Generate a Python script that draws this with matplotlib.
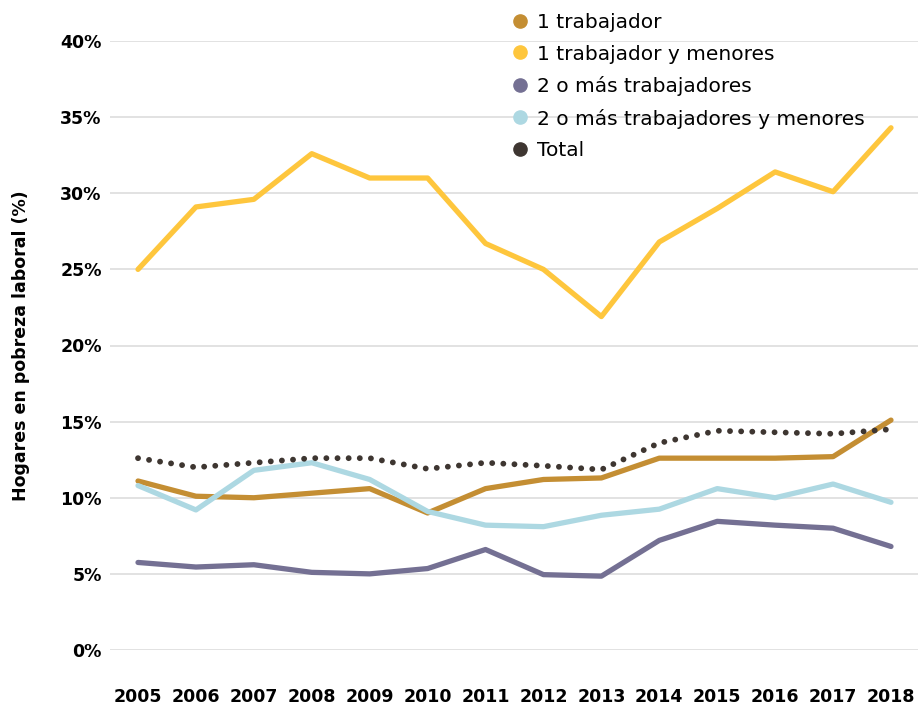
import numpy as np
import matplotlib.pyplot as plt
from matplotlib.lines import Line2D

# data (share of households, %)
years = list(range(2005, 2019))
un_trab = [11.1, 10.1, 10.0, 10.3, 10.6, 9.0, 10.6, 11.2, 11.3, 12.6, 12.6, 12.6, 12.7, 15.1]
un_trab_men = [25.0, 29.1, 29.6, 32.6, 31.0, 31.0, 26.7, 25.0, 21.9, 26.8, 29.0, 31.4, 30.1, 34.3]
dos_trab = [5.75, 5.45, 5.6, 5.1, 5.0, 5.35, 6.6, 4.95, 4.85, 7.2, 8.45, 8.2, 8.0, 6.8]
dos_trab_men = [10.8, 9.2, 11.8, 12.3, 11.2, 9.1, 8.2, 8.1, 8.85, 9.25, 10.6, 10.0, 10.9, 9.7]
total = [12.6, 12.0, 12.3, 12.6, 12.6, 11.9, 12.3, 12.1, 11.85, 13.6, 14.4, 14.3, 14.2, 14.5]

labels = ['1 trabajador', '1 trabajador y menores', '2 o más trabajadores',
          '2 o más trabajadores y menores', 'Total']
colors = ['#C48E33', '#FEC63D', '#747093', '#ADD8E2', '#3E3631']

fig = plt.figure(figsize=(9.18, 7.04), dpi=100)
ax = fig.add_axes([110/918, 54/704, 808/918, 609/704])

ax.plot(years, un_trab_men, color=colors[1], lw=3.8, solid_capstyle='round', clip_on=False)
ax.plot(years, un_trab, color=colors[0], lw=3.8, solid_capstyle='round', clip_on=False)
ax.plot(years, dos_trab, color=colors[2], lw=3.8, solid_capstyle='round', clip_on=False)
ax.plot(years, dos_trab_men, color=colors[3], lw=3.8, solid_capstyle='round', clip_on=False)
ax.plot(years, total, color=colors[4], lw=4.2, linestyle=(0, (0.01, 1.9)),
        dash_capstyle='round', clip_on=False)

ax.set_xlim(2005 - 28/57.9, 2018 + 27/57.9)
ax.set_ylim(0, 40)
ax.set_yticks(range(0, 41, 5))
ax.set_yticklabels([f'{v}%' for v in range(0, 41, 5)])
ax.set_xticks(years)
ax.set_xticklabels([str(y) for y in years])
ax.grid(axis='y', color='#DDDDDD', lw=1.2)
ax.set_axisbelow(True)
for s in ax.spines.values():
    s.set_visible(False)
ax.tick_params(axis='both', length=0, labelsize=12.5)
ax.tick_params(axis='x', pad=27)
ax.tick_params(axis='y', pad=6)
for t in ax.get_xticklabels() + ax.get_yticklabels():
    t.set_fontweight('bold')
ax.set_ylabel('Hogares en pobreza laboral (%)', fontsize=12.5, fontweight='bold', labelpad=22)

handles = [Line2D([], [], marker='o', ls='', color=c, markersize=9.5) for c in colors]
fig.legend(handles, labels, loc='upper left', bbox_to_anchor=(502/918, 1 - 5/704),
           frameon=False, fontsize=14.5, handletextpad=0.35, labelspacing=0.62,
           handlelength=1.0, borderaxespad=0)

plt.savefig('out.png', dpi=100)
